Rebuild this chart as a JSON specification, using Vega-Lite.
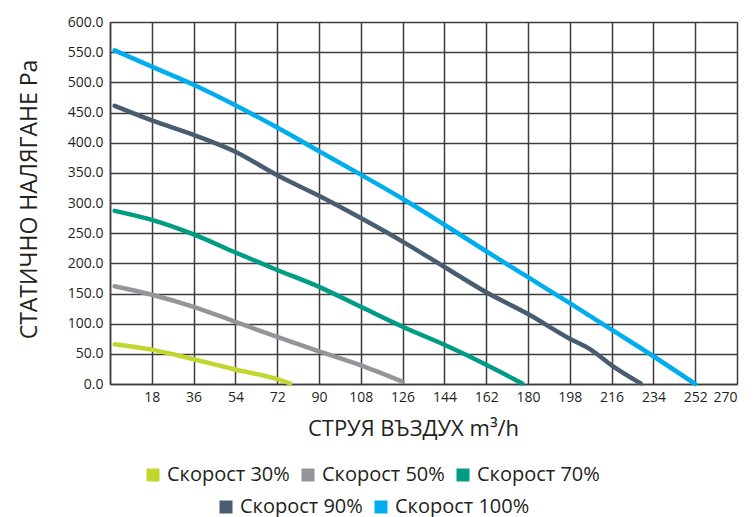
{
  "$schema": "https://vega.github.io/schema/vega-lite/v6.json",
  "width": 627,
  "height": 362,
  "autosize": {"type": "none"},
  "padding": {"left": 110, "top": 22, "right": 18, "bottom": 133},
  "background": "white",
  "config": {
    "view": {"stroke": null},
    "font": "Open Sans",
    "axis": {"labelFont": "Open Sans", "titleFont": "Open Sans", "labelColor": "#231f20", "titleColor": "#231f20", "titleFontWeight": "normal"},
    "legend": {"labelFont": "Open Sans", "padding": 0}
  },
  "data": {
    "values": [
      {"series": "Скорост 30%", "x": 2, "y": 66},
      {"series": "Скорост 30%", "x": 18, "y": 57},
      {"series": "Скорост 30%", "x": 36, "y": 41},
      {"series": "Скорост 30%", "x": 54, "y": 24},
      {"series": "Скорост 30%", "x": 72, "y": 8},
      {"series": "Скорост 30%", "x": 77.5, "y": 1},
      {"series": "Скорост 50%", "x": 2, "y": 162},
      {"series": "Скорост 50%", "x": 18, "y": 148},
      {"series": "Скорост 50%", "x": 36, "y": 128},
      {"series": "Скорост 50%", "x": 54, "y": 103},
      {"series": "Скорост 50%", "x": 72, "y": 78},
      {"series": "Скорост 50%", "x": 90, "y": 54},
      {"series": "Скорост 50%", "x": 108, "y": 31},
      {"series": "Скорост 50%", "x": 126, "y": 4},
      {"series": "Скорост 70%", "x": 2, "y": 287},
      {"series": "Скорост 70%", "x": 18, "y": 272},
      {"series": "Скорост 70%", "x": 36, "y": 248},
      {"series": "Скорост 70%", "x": 54, "y": 218},
      {"series": "Скорост 70%", "x": 72, "y": 189},
      {"series": "Скорост 70%", "x": 90, "y": 161},
      {"series": "Скорост 70%", "x": 108, "y": 128},
      {"series": "Скорост 70%", "x": 126, "y": 95},
      {"series": "Скорост 70%", "x": 144, "y": 65},
      {"series": "Скорост 70%", "x": 162, "y": 32},
      {"series": "Скорост 70%", "x": 177.5, "y": 1},
      {"series": "Скорост 90%", "x": 2, "y": 461},
      {"series": "Скорост 90%", "x": 18, "y": 437},
      {"series": "Скорост 90%", "x": 36, "y": 413},
      {"series": "Скорост 90%", "x": 54, "y": 385},
      {"series": "Скорост 90%", "x": 72, "y": 346},
      {"series": "Скорост 90%", "x": 90, "y": 312},
      {"series": "Скорост 90%", "x": 108, "y": 275},
      {"series": "Скорост 90%", "x": 126, "y": 236},
      {"series": "Скорост 90%", "x": 144, "y": 194},
      {"series": "Скорост 90%", "x": 162, "y": 152},
      {"series": "Скорост 90%", "x": 180, "y": 116},
      {"series": "Скорост 90%", "x": 198, "y": 75},
      {"series": "Скорост 90%", "x": 207, "y": 57},
      {"series": "Скорост 90%", "x": 216, "y": 31},
      {"series": "Скорост 90%", "x": 228.5, "y": 1},
      {"series": "Скорост 100%", "x": 2, "y": 553},
      {"series": "Скорост 100%", "x": 18, "y": 526},
      {"series": "Скорост 100%", "x": 36, "y": 496},
      {"series": "Скорост 100%", "x": 54, "y": 462},
      {"series": "Скорост 100%", "x": 72, "y": 425},
      {"series": "Скорост 100%", "x": 90, "y": 386},
      {"series": "Скорост 100%", "x": 108, "y": 347},
      {"series": "Скорост 100%", "x": 126, "y": 307},
      {"series": "Скорост 100%", "x": 144, "y": 264},
      {"series": "Скорост 100%", "x": 162, "y": 220},
      {"series": "Скорост 100%", "x": 180, "y": 177},
      {"series": "Скорост 100%", "x": 198, "y": 134},
      {"series": "Скорост 100%", "x": 216, "y": 90},
      {"series": "Скорост 100%", "x": 234, "y": 46},
      {"series": "Скорост 100%", "x": 252, "y": 0}
    ]
  },
  "encoding": {
    "x": {
      "field": "x", "type": "quantitative",
      "scale": {"domain": [0, 270], "nice": false, "zero": true},
      "axis": {
        "values": [0, 18, 36, 54, 72, 90, 108, 126, 144, 162, 180, 198, 216, 234, 252, 270],
        "labelExpr": "datum.value == 0 ? '' : datum.label",
        "title": "СТРУЯ ВЪЗДУХ m³/h",
        "titleFontSize": 22, "titlePadding": 14, "titleX": 303, "titleAnchor": "middle",
        "labelFontSize": 14, "labelPadding": 6,
        "ticks": false, "grid": true,
        "gridColor": "#3d3d3d", "gridWidth": 1.5, "gridOpacity": 1,
        "domainColor": "#3d3d3d", "domainWidth": 1.5
      }
    },
    "y": {
      "field": "y", "type": "quantitative",
      "scale": {"domain": [0, 600], "nice": false},
      "axis": {
        "values": [0, 50, 100, 150, 200, 250, 300, 350, 400, 450, 500, 550, 600],
        "format": ".1f",
        "title": "СТАТИЧНО НАЛЯГАНЕ Pa",
        "titleFontSize": 23, "titlePadding": 26, "titleY": 177,
        "labelFontSize": 14, "labelPadding": 7,
        "ticks": false, "grid": true,
        "gridColor": "#3d3d3d", "gridWidth": 1.5, "gridOpacity": 1,
        "domainColor": "#3d3d3d", "domainWidth": 1.5
      }
    }
  },
  "layer": [
    {
      "transform": [{"filter": "indexof(['Скорост 30%','Скорост 50%','Скорост 70%'], datum.series) >= 0"}],
      "mark": {"type": "line", "strokeWidth": 4.5, "strokeCap": "round", "interpolate": "monotone"},
      "encoding": {
        "color": {
          "field": "series", "type": "nominal",
          "scale": {"domain": ["Скорост 30%", "Скорост 50%", "Скорост 70%"], "range": ["#c1d72e", "#939598", "#009c84"]},
          "legend": {
            "title": null, "orient": "none", "direction": "horizontal",
            "legendX": 33, "legendY": 443,
            "symbolType": "square", "symbolSize": 36, "symbolStrokeWidth": 7, "symbolOpacity": 1,
            "labelFontSize": 20, "labelColor": "#231f20", "labelOffset": 4, "columnPadding": 1
          }
        },
        "detail": {"field": "series"}
      }
    },
    {
      "transform": [{"filter": "indexof(['Скорост 90%','Скорост 100%'], datum.series) >= 0"}],
      "mark": {"type": "line", "strokeWidth": 4.5, "strokeCap": "round", "interpolate": "monotone"},
      "encoding": {
        "color": {
          "field": "series", "type": "nominal",
          "scale": {"domain": ["Скорост 90%", "Скорост 100%"], "range": ["#4a5d70", "#00aeef"]},
          "legend": {
            "title": null, "orient": "none", "direction": "horizontal",
            "legendX": 106, "legendY": 475,
            "symbolType": "square", "symbolSize": 36, "symbolStrokeWidth": 7, "symbolOpacity": 1,
            "labelFontSize": 20, "labelColor": "#231f20", "labelOffset": 4, "columnPadding": 1
          }
        },
        "detail": {"field": "series"}
      }
    }
  ],
  "resolve": {"scale": {"color": "independent"}, "legend": {"color": "independent"}}
}
